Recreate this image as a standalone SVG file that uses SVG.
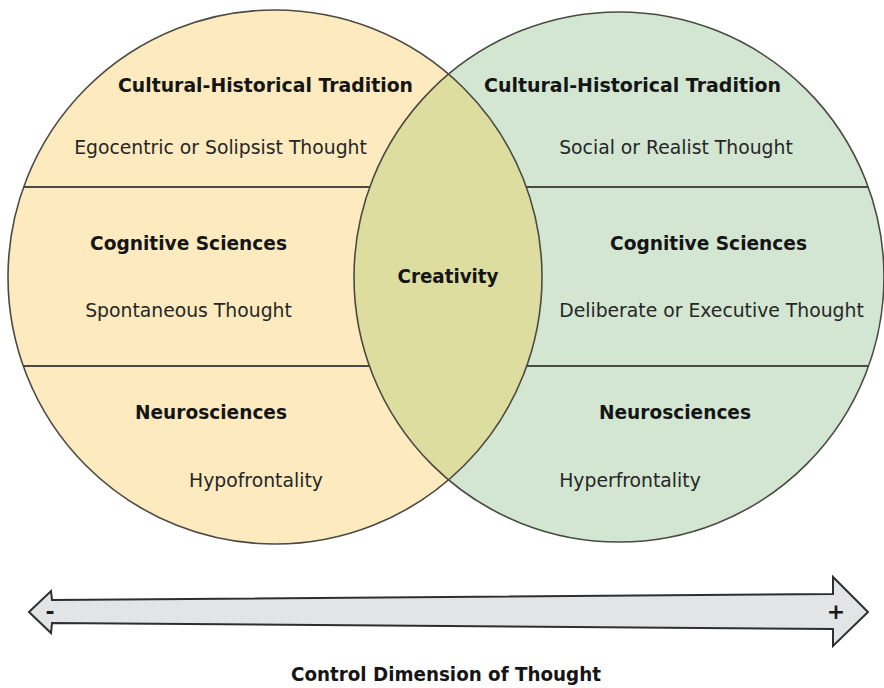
<svg xmlns="http://www.w3.org/2000/svg" width="884" height="688" viewBox="0 0 884 688">
  <style>
    .outline { fill: none; stroke: #4a4a42; stroke-width: 1.6; }
    .divider { stroke: #4a4a42; stroke-width: 1.8; }
    .head { font-family: "DejaVu Sans", Verdana, sans-serif; font-weight: bold; font-size: 19.5px; fill: #151515; text-anchor: middle; }
    .body { font-family: "DejaVu Sans", Verdana, sans-serif; font-size: 18.8px; fill: #262626; text-anchor: middle; }
    .sign { font-family: "DejaVu Sans", Verdana, sans-serif; font-weight: bold; font-size: 22px; fill: #1a1a1a; text-anchor: middle; }
  </style>
  <defs>
    <clipPath id="clipLeft">
      <circle cx="275" cy="277" r="267"/>
    </clipPath>
  </defs>

  <rect width="884" height="688" fill="#ffffff"/>

  <!-- left circle: uncontrolled thought -->
  <g id="left-circle">
    <circle cx="275" cy="277" r="267" fill="#fdebbf"/>
  </g>

  <!-- right circle: controlled thought -->
  <g id="right-circle">
    <circle cx="619" cy="277" r="265" fill="#d2e6d2"/>
  </g>

  <!-- overlap: creativity -->
  <g id="creativity">
    <circle cx="619" cy="277" r="265" fill="#dcdd9f" clip-path="url(#clipLeft)"/>
    <text class="head" x="448" y="283" textLength="101" lengthAdjust="spacingAndGlyphs">Creativity</text>
  </g>

  <!-- outlines and band dividers -->
  <g id="outlines">
    <circle class="outline" cx="275" cy="277" r="267"/>
    <circle class="outline" cx="619" cy="277" r="265"/>
    <line class="divider" x1="23.6" y1="187" x2="369.8" y2="187"/>
    <line class="divider" x1="23.3" y1="366" x2="369.4" y2="366"/>
    <line class="divider" x1="526.4" y1="187" x2="868.2" y2="187"/>
    <line class="divider" x1="526.7" y1="366" x2="868.6" y2="366"/>
  </g>

  <!-- left column labels -->
  <g id="left-labels">
    <text class="head" x="265.5" y="92" textLength="295" lengthAdjust="spacingAndGlyphs">Cultural-Historical Tradition</text>
    <text class="body" x="220.5" y="154">Egocentric or Solipsist Thought</text>
    <text class="head" x="188.5" y="250" textLength="197" lengthAdjust="spacingAndGlyphs">Cognitive Sciences</text>
    <text class="body" x="188.5" y="317">Spontaneous Thought</text>
    <text class="head" x="211" y="419" textLength="152" lengthAdjust="spacingAndGlyphs">Neurosciences</text>
    <text class="body" x="256" y="487">Hypofrontality</text>
  </g>

  <!-- right column labels -->
  <g id="right-labels">
    <text class="head" x="632.5" y="92" textLength="297" lengthAdjust="spacingAndGlyphs">Cultural-Historical Tradition</text>
    <text class="body" x="676" y="154">Social or Realist Thought</text>
    <text class="head" x="708.5" y="250" textLength="197" lengthAdjust="spacingAndGlyphs">Cognitive Sciences</text>
    <text class="body" x="711.5" y="317">Deliberate or Executive Thought</text>
    <text class="head" x="675" y="419" textLength="152" lengthAdjust="spacingAndGlyphs">Neurosciences</text>
    <text class="body" x="630" y="487">Hyperfrontality</text>
  </g>

  <!-- control axis: double-headed block arrow -->
  <g id="connectors">
    <g id="control-axis">
      <polygon points="29,612 51,591 52,600 833,594 833,577 868,612 833,646 833,629 52,623 51,633"
               fill="#e3e4e5" stroke="#2e2e2e" stroke-width="2" stroke-linejoin="miter"/>
      <text class="sign" x="50" y="619">-</text>
      <text class="sign" x="836" y="619">+</text>
    </g>
  </g>

  <g id="axis-title">
    <text class="head" x="446" y="681" textLength="310" lengthAdjust="spacingAndGlyphs">Control Dimension of Thought</text>
  </g>
</svg>
